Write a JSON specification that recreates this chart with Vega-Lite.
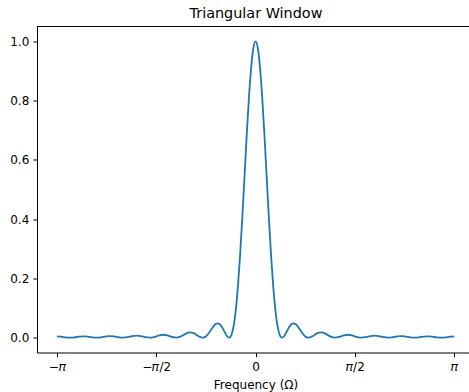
{
  "$schema": "https://vega.github.io/schema/vega-lite/v6.json",
  "width": 432,
  "height": 326,
  "autosize": "none",
  "padding": {"left": 37, "top": 26.5, "right": 0, "bottom": 39.5},
  "background": "white",
  "title": {
    "text": "Triangular Window",
    "font": "DejaVu Sans",
    "fontSize": 14.4,
    "fontWeight": "normal",
    "color": "black",
    "anchor": "middle",
    "baseline": "alphabetic",
    "offset": -6.5,
    "dx": 3
  },
  "config": {"view": {"stroke": null}, "font": "DejaVu Sans"},
  "data": {
    "values": [
      {"omega": -3.14159, "mag": 0.004444},
      {"omega": -3.07178, "mag": 0.003337},
      {"omega": -3.00197, "mag": 0.001117},
      {"omega": -2.93215, "mag": 0},
      {"omega": -2.86234, "mag": 0.001133},
      {"omega": -2.79253, "mag": 0.003437},
      {"omega": -2.72271, "mag": 0.004645},
      {"omega": -2.6529, "mag": 0.003541},
      {"omega": -2.58309, "mag": 0.001202},
      {"omega": -2.51327, "mag": 0},
      {"omega": -2.44346, "mag": 0.001258},
      {"omega": -2.37365, "mag": 0.003877},
      {"omega": -2.30383, "mag": 0.005325},
      {"omega": -2.23402, "mag": 0.004126},
      {"omega": -2.16421, "mag": 0.001425},
      {"omega": -2.0944, "mag": 0},
      {"omega": -2.02458, "mag": 0.001545},
      {"omega": -1.95477, "mag": 0.00485},
      {"omega": -1.88496, "mag": 0.00679},
      {"omega": -1.81514, "mag": 0.005368},
      {"omega": -1.74533, "mag": 0.001893},
      {"omega": -1.67552, "mag": 0},
      {"omega": -1.6057, "mag": 0.002147},
      {"omega": -1.53589, "mag": 0.006908},
      {"omega": -1.46608, "mag": 0.009926},
      {"omega": -1.39626, "mag": 0.008068},
      {"omega": -1.32645, "mag": 0.002931},
      {"omega": -1.25664, "mag": 0},
      {"omega": -1.18682, "mag": 0.003553},
      {"omega": -1.11701, "mag": 0.01187},
      {"omega": -1.0472, "mag": 0.017778},
      {"omega": -0.97738, "mag": 0.015124},
      {"omega": -0.90757, "mag": 0.005782},
      {"omega": -0.83776, "mag": 0},
      {"omega": -0.80285, "mag": 0.00195},
      {"omega": -0.76794, "mag": 0.007918},
      {"omega": -0.73304, "mag": 0.017303},
      {"omega": -0.69813, "mag": 0.028495},
      {"omega": -0.66323, "mag": 0.039122},
      {"omega": -0.62832, "mag": 0.046543},
      {"omega": -0.59341, "mag": 0.04851},
      {"omega": -0.55851, "mag": 0.043874},
      {"omega": -0.5236, "mag": 0.033174},
      {"omega": -0.48869, "mag": 0.018985},
      {"omega": -0.45379, "mag": 0.005883},
      {"omega": -0.41888, "mag": 0},
      {"omega": -0.38397, "mag": 0.008177},
      {"omega": -0.34907, "mag": 0.03685},
      {"omega": -0.31416, "mag": 0.09081},
      {"omega": -0.27925, "mag": 0.17209},
      {"omega": -0.24435, "mag": 0.2792},
      {"omega": -0.20944, "mag": 0.40677},
      {"omega": -0.17453, "mag": 0.5459},
      {"omega": -0.13963, "mag": 0.68504},
      {"omega": -0.10472, "mag": 0.81132},
      {"omega": -0.06981, "mag": 0.91228},
      {"omega": -0.03491, "mag": 0.97746},
      {"omega": 0, "mag": 1},
      {"omega": 0.03491, "mag": 0.97746},
      {"omega": 0.06981, "mag": 0.91228},
      {"omega": 0.10472, "mag": 0.81132},
      {"omega": 0.13963, "mag": 0.68504},
      {"omega": 0.17453, "mag": 0.5459},
      {"omega": 0.20944, "mag": 0.40677},
      {"omega": 0.24435, "mag": 0.2792},
      {"omega": 0.27925, "mag": 0.17209},
      {"omega": 0.31416, "mag": 0.09081},
      {"omega": 0.34907, "mag": 0.03685},
      {"omega": 0.38397, "mag": 0.008177},
      {"omega": 0.41888, "mag": 0},
      {"omega": 0.45379, "mag": 0.005883},
      {"omega": 0.48869, "mag": 0.018985},
      {"omega": 0.5236, "mag": 0.033174},
      {"omega": 0.55851, "mag": 0.043874},
      {"omega": 0.59341, "mag": 0.04851},
      {"omega": 0.62832, "mag": 0.046543},
      {"omega": 0.66323, "mag": 0.039122},
      {"omega": 0.69813, "mag": 0.028495},
      {"omega": 0.73304, "mag": 0.017303},
      {"omega": 0.76794, "mag": 0.007918},
      {"omega": 0.80285, "mag": 0.00195},
      {"omega": 0.83776, "mag": 0},
      {"omega": 0.90757, "mag": 0.005782},
      {"omega": 0.97738, "mag": 0.015124},
      {"omega": 1.0472, "mag": 0.017778},
      {"omega": 1.11701, "mag": 0.01187},
      {"omega": 1.18682, "mag": 0.003553},
      {"omega": 1.25664, "mag": 0},
      {"omega": 1.32645, "mag": 0.002931},
      {"omega": 1.39626, "mag": 0.008068},
      {"omega": 1.46608, "mag": 0.009926},
      {"omega": 1.53589, "mag": 0.006908},
      {"omega": 1.6057, "mag": 0.002147},
      {"omega": 1.67552, "mag": 0},
      {"omega": 1.74533, "mag": 0.001893},
      {"omega": 1.81514, "mag": 0.005368},
      {"omega": 1.88496, "mag": 0.00679},
      {"omega": 1.95477, "mag": 0.00485},
      {"omega": 2.02458, "mag": 0.001545},
      {"omega": 2.0944, "mag": 0},
      {"omega": 2.16421, "mag": 0.001425},
      {"omega": 2.23402, "mag": 0.004126},
      {"omega": 2.30383, "mag": 0.005325},
      {"omega": 2.37365, "mag": 0.003877},
      {"omega": 2.44346, "mag": 0.001258},
      {"omega": 2.51327, "mag": 0},
      {"omega": 2.58309, "mag": 0.001202},
      {"omega": 2.6529, "mag": 0.003541},
      {"omega": 2.72271, "mag": 0.004645},
      {"omega": 2.79253, "mag": 0.003437},
      {"omega": 2.86234, "mag": 0.001133},
      {"omega": 2.93215, "mag": 0},
      {"omega": 3.00197, "mag": 0.001117},
      {"omega": 3.07178, "mag": 0.003337},
      {"omega": 3.14159, "mag": 0.004444}
    ]
  },
  "layer": [
    {
      "mark": {"type": "line", "color": "#1f77b4", "strokeWidth": 1.8, "interpolate": "monotone"},
      "encoding": {
        "x": {
          "field": "omega",
          "type": "quantitative",
          "scale": {"domain": [-3.4558, 3.3742], "nice": false, "zero": false},
          "axis": {
            "values": [-3.14159, -1.5708, 0, 1.5708, 3.14159],
            "labelExpr": "datum.value < -3 ? '−𝜋' : datum.value < -1 ? '−𝜋/2' : datum.value > 3 ? '𝜋' : datum.value > 1 ? '𝜋/2' : '0'",
            "title": "Frequency (Ω)",
            "grid": false,
            "domainColor": "black",
            "domainWidth": 1,
            "tickColor": "black",
            "tickWidth": 1,
            "tickSize": 4.2,
            "labelFont": "DejaVu Sans",
            "labelFontSize": 12,
            "labelColor": "black",
            "labelBaseline": "alphabetic",
            "labelPadding": 14,
            "labelFlush": false,
            "labelOverlap": false,
            "titleFont": "DejaVu Sans",
            "titleFontSize": 12,
            "titleFontWeight": "normal",
            "titleColor": "black",
            "titleX": 218.5,
            "titleY": 35.5,
            "titleAlign": "center",
            "titleBaseline": "alphabetic"
          }
        },
        "y": {
          "field": "mag",
          "type": "quantitative",
          "scale": {"domain": [-0.05, 1.05], "nice": false, "zero": false},
          "axis": {
            "values": [0, 0.2, 0.4, 0.6, 0.8, 1.0],
            "format": ".1f",
            "title": null,
            "grid": false,
            "domainColor": "black",
            "domainWidth": 1,
            "tickColor": "black",
            "tickWidth": 1,
            "tickSize": 4.2,
            "labelFont": "DejaVu Sans",
            "labelFontSize": 12,
            "labelColor": "black",
            "labelPadding": 4,
            "labelFlush": false,
            "labelOverlap": false
          }
        }
      }
    },
    {
      "data": {"values": [{}]},
      "mark": {"type": "rule", "color": "black", "strokeWidth": 1},
      "encoding": {"y": {"datum": 1.05}}
    }
  ]
}
